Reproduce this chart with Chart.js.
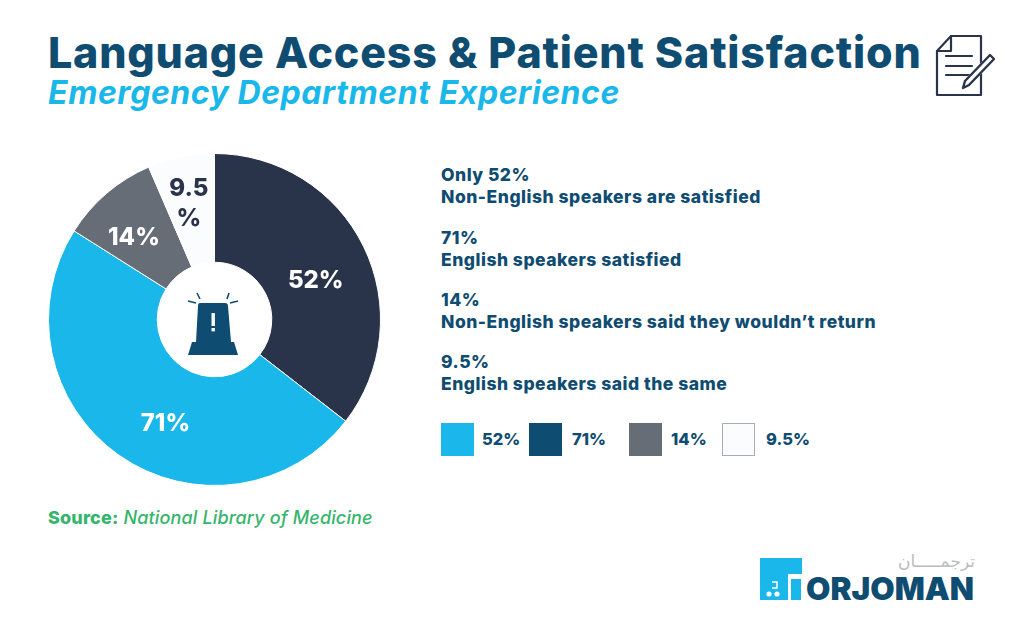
<!DOCTYPE html>
<html>
<head>
<meta charset="utf-8">
<script src="https://cdn.jsdelivr.net/npm/chart.js@4"></script>
<style>
  html, body { margin: 0; padding: 0; background: #fff; }
  body { width: 1024px; height: 633px; position: relative; overflow: hidden; font-family: Inter, "Open Sans", sans-serif; }
  .abs { position: absolute; white-space: nowrap; }
  #title { left: 48px; top: 31px; font-size: 43px; line-height: 42px; font-weight: 800; color: #0f4c71; letter-spacing: 0.8px; }
  #subtitle { left: 48px; top: 78px; font-size: 32px; line-height: 30px; font-weight: 700; font-style: italic; color: #1ab7ea; letter-spacing: 0.55px; }
  #notes div { position: absolute; left: 441px; white-space: nowrap; font-size: 17.5px; line-height: 21px; font-weight: 800; color: #0f4c71; letter-spacing: 0.5px; }
  #legend span { position: absolute; }
  .swatch { width: 33px; height: 33px; top: 423px; box-sizing: border-box; }
  .legtext { top: 429px; font-size: 16.5px; line-height: 21px; font-weight: 800; color: #0f4c71; }
  #source { left: 48px; top: 507px; font-size: 18px; line-height: 21px; color: #35b56c; font-style: italic; font-weight: 500; letter-spacing: 0.15px; }
  #source b { font-style: normal; font-weight: 800; }
  #pieBox { position: absolute; left: 48px; top: 153px; width: 333px; height: 333px; }
  #logoText { left: 806px; top: 572px; font-size: 31.5px; line-height: 34px; font-weight: 900; color: #0f4c71; }
  #logoAr { left: 898px; top: 550px; font-family: "DejaVu Sans", sans-serif; font-size: 17px; line-height: 22px; color: #b9bcc0; }
</style>
</head>
<body>
<div id="title" class="abs">Language Access &amp; Patient Satisfaction</div>
<div id="subtitle" class="abs">Emergency Department Experience</div>

<svg class="abs" style="left:934px;top:34px" width="64" height="64" viewBox="0 0 64 64" fill="none" stroke="#29344a" stroke-width="2.2" stroke-linejoin="round" stroke-linecap="round">
  <path d="M3 17 L17 2 H47 V61 H3 Z"/>
  <path d="M3 17 H17 V2"/>
  <path d="M12 22 H38 M12 32 H38 M12 41 H36"/>
  <path d="M29 53 L59 22" stroke="#fff" stroke-width="8"/>
  <path d="M29 54 L31 47 L56 21 L60 25 L35 51 Z" stroke-width="2.4"/>
</svg>

<div id="pieBox"><canvas id="pie"></canvas></div>

<svg class="abs" style="left:184px;top:289px" width="60" height="70" viewBox="0 0 60 70">
  <path d="M16 14 H41 Q44 14 44 17 L47 53 H50 L54 66 H4 L8 53 H12 L14 17 Q14 14 16 14 Z" fill="#0f4c71"/>
  <rect x="27.5" y="24" width="3.4" height="13" fill="#fff"/>
  <rect x="27.5" y="39" width="3.4" height="3.4" fill="#fff"/>
  <path d="M4 12 L12 14 M13 4 L16 10 M45 4 L43 10 M46 14 L54 12" stroke="#0f4c71" stroke-width="1.6" fill="none"/>
</svg>

<div id="notes"></div>
<div id="legend"></div>
<div id="source" class="abs"><b>Source:</b> National Library of Medicine</div>

<svg class="abs" style="left:760px;top:558px" width="43" height="43" viewBox="0 0 43 43">
  <path d="M0 0 H42 V16 H28 V42 H0 Z" fill="#1ab7ea"/>
  <rect x="31" y="21" width="10" height="21" fill="#1ab7ea"/>
  <circle cx="9" cy="36" r="2.6" fill="#fff"/>
  <circle cx="17" cy="36" r="2.6" fill="#fff"/>
  <path d="M12 24 H17 V30 H12" stroke="#fff" stroke-width="1.5" fill="none"/>
</svg>
<div id="logoText" class="abs">ORJOMAN</div>
<div id="logoAr" class="abs" dir="rtl">ترجمـــــان</div>

<script>
const categories = ['Only 52%', '71%', '14%', '9.5%'];
const noteLines = [
  'Non-English speakers are satisfied',
  'English speakers satisfied',
  'Non-English speakers said they wouldn\u2019t return',
  'English speakers said the same'
];
const values = [52, 71, 14, 9.5];
const sliceLabels = [['52%'], ['71%'], ['14%'], ['9.5', '%']];
const sliceColors = ['#29344a', '#1ab7ea', '#666d76', '#fbfcfe'];
const labelColors = ['#fff', '#fff', '#fff', '#29344a'];
const legendLabels = ['52%', '71%', '14%', '9.5%'];
const legendColors = ['#1ab7ea', '#0f4c71', '#666d76', '#fbfcfe'];

// nudges from the arc centre to where the picture has each label
const labelNudge = [[1, 10], [15, 13], [-8, 3], [-3, -6]];

const notes = document.getElementById('notes');
const noteTops = [164, 227, 289, 351];
categories.forEach((c, i) => {
  notes.innerHTML += `<div style="top:${noteTops[i]}px">${c}</div>`;
  notes.innerHTML += `<div style="top:${noteTops[i] + 22}px">${noteLines[i]}</div>`;
});

const legend = document.getElementById('legend');
const swatchX = [441, 529, 629, 722];
const textX = [482, 572, 671, 766];
legendLabels.forEach((l, i) => {
  const border = i === 3 ? 'border:1px solid #a9adb2;' : '';
  legend.innerHTML += `<span class="swatch" style="left:${swatchX[i]}px;background:${legendColors[i]};${border}"></span>`;
  legend.innerHTML += `<span class="legtext" style="left:${textX[i]}px">${l}</span>`;
});

const sliceLabelPlugin = {
  id: 'sliceLabels',
  afterDatasetsDraw(chart) {
    const ctx = chart.ctx;
    chart.getDatasetMeta(0).data.forEach((arc, i) => {
      const p = arc.getCenterPoint();
      const lines = sliceLabels[i];
      ctx.save();
      ctx.font = '800 24px Inter, sans-serif';
      ctx.fillStyle = labelColors[i];
      ctx.textAlign = 'center';
      ctx.textBaseline = 'middle';
      lines.forEach((line, n) => {
        const y = p.y + labelNudge[i][1] + (n - (lines.length - 1) / 2) * 30;
        ctx.fillText(line, p.x + labelNudge[i][0], y);
      });
      ctx.restore();
    });
  }
};

new Chart(document.getElementById('pie'), {
  type: 'doughnut',
  data: {
    labels: legendLabels,
    datasets: [{
      data: values,
      backgroundColor: sliceColors,
      borderColor: '#fff',
      borderWidth: 1
    }]
  },
  options: {
    responsive: true,
    maintainAspectRatio: false,
    animation: false,
    cutout: '34.5%',
    plugins: {
      legend: { display: false },
      tooltip: { enabled: false }
    }
  },
  plugins: [sliceLabelPlugin]
});
</script>
</body>
</html>
